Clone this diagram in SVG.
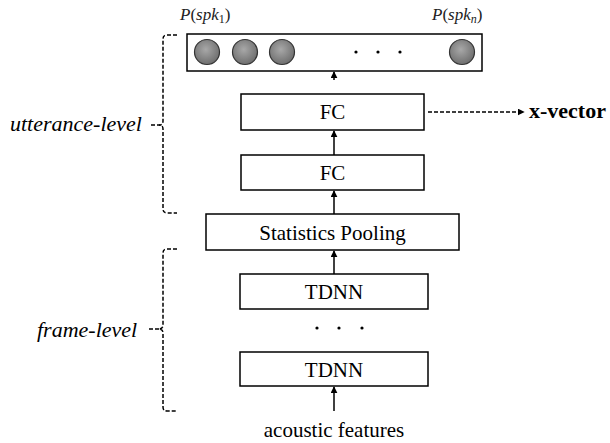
<svg xmlns="http://www.w3.org/2000/svg" width="610" height="443" viewBox="0 0 610 443">
<style>
.box{fill:#fff;stroke:#000;stroke-width:1.5}
.lbl{font-family:"Liberation Serif",serif;font-size:21px;text-anchor:middle;fill:#000}
.it{font-family:"Liberation Serif",serif;font-style:italic;font-size:22px;fill:#000}
.bold{font-family:"Liberation Serif",serif;font-weight:bold;font-size:22px;fill:#000}
.math{font-family:"Liberation Serif",serif;font-size:17px;fill:#222}
.conn{stroke:#000;stroke-width:1.5;fill:none}
.dash{stroke:#000;stroke-width:1.5;fill:none;stroke-dasharray:4 2}
.neuron{fill:url(#g);stroke:#333;stroke-width:1.2}
.dot{fill:#000}
</style>
<defs>
<radialGradient id="g" cx="0.45" cy="0.4" r="0.6">
<stop offset="0" stop-color="#a8a8a8"/>
<stop offset="1" stop-color="#6e6e6e"/>
</radialGradient>
<marker id="ah" viewBox="0 0 10 10" refX="9" refY="5" markerWidth="7" markerHeight="7" markerUnits="userSpaceOnUse" orient="auto">
<path d="M0,0 L10,5 L0,10 z" fill="#000"/>
</marker>
</defs>

<g id="output">
<rect class="box" x="187" y="34" width="295" height="37"/>
<circle class="neuron" cx="207" cy="52" r="12.5"/>
<circle class="neuron" cx="245" cy="52" r="12.5"/>
<circle class="neuron" cx="282" cy="52" r="12.5"/>
<circle class="neuron" cx="462" cy="52" r="12.5"/>
<circle class="dot" cx="356" cy="52" r="1.6"/>
<circle class="dot" cx="378" cy="52" r="1.6"/>
<circle class="dot" cx="400" cy="52" r="1.6"/>
<text class="math" x="180" y="20"><tspan font-style="italic">P</tspan>(<tspan font-style="italic">spk</tspan><tspan font-size="12" dy="3">1</tspan><tspan dy="-3">)</tspan></text>
<text class="math" x="432" y="20"><tspan font-style="italic">P</tspan>(<tspan font-style="italic">spk</tspan><tspan font-size="12" font-style="italic" dy="3">n</tspan><tspan dy="-3">)</tspan></text>
</g>

<g id="fc2">
<rect class="box" x="241" y="94" width="183" height="36"/>
<text class="lbl" x="332.5" y="119">FC</text>
</g>
<g id="fc1">
<rect class="box" x="241" y="155" width="183" height="35"/>
<text class="lbl" x="332.5" y="180">FC</text>
</g>
<g id="pooling">
<rect class="box" x="206" y="214" width="253" height="36"/>
<text class="lbl" x="332.5" y="240" font-size="22">Statistics Pooling</text>
</g>
<g id="tdnn1">
<rect class="box" x="240" y="274" width="188" height="35"/>
<text class="lbl" x="334" y="299">TDNN</text>
</g>
<g id="dots">
<circle class="dot" cx="317" cy="328" r="1.6"/>
<circle class="dot" cx="339" cy="328" r="1.6"/>
<circle class="dot" cx="362" cy="328" r="1.6"/>
</g>
<g id="tdnn2">
<rect class="box" x="240" y="352" width="188" height="34"/>
<text class="lbl" x="334" y="377">TDNN</text>
</g>
<g id="input">
<text class="lbl" x="334" y="437" font-size="22">acoustic features</text>
</g>
<g id="xvector">
<text class="bold" x="529" y="118">x-vector</text>
</g>
<g id="utterance">
<text class="it" x="10" y="131">utterance-level</text>
</g>
<g id="frame">
<text class="it" x="37" y="337">frame-level</text>
</g>

<g id="connectors">
<line class="conn" x1="334" y1="80" x2="334" y2="72" marker-end="url(#ah)"/>
<line class="conn" x1="334" y1="155" x2="334" y2="131" marker-end="url(#ah)"/>
<line class="conn" x1="334" y1="214" x2="334" y2="191" marker-end="url(#ah)"/>
<line class="conn" x1="334" y1="274" x2="334" y2="251" marker-end="url(#ah)"/>
<line class="conn" x1="334" y1="411" x2="334" y2="387" marker-end="url(#ah)"/>
<line class="dash" x1="428" y1="112" x2="524" y2="112" marker-end="url(#ah)"/>
<path class="dash" d="M177,35 L167,35 Q163,35 163,39 L163,121 Q163,125 159,125 Q163,125 163,129 L163,209 Q163,213 167,213 L177,213"/>
<line class="dash" x1="151" y1="125" x2="160" y2="125"/>
<path class="dash" d="M177,249 L167,249 Q163,249 163,253 L163,325 Q163,329 159,329 Q163,329 163,333 L163,407 Q163,411 167,411 L177,411"/>
<line class="dash" x1="149" y1="329" x2="160" y2="329"/>
</g>
</svg>
